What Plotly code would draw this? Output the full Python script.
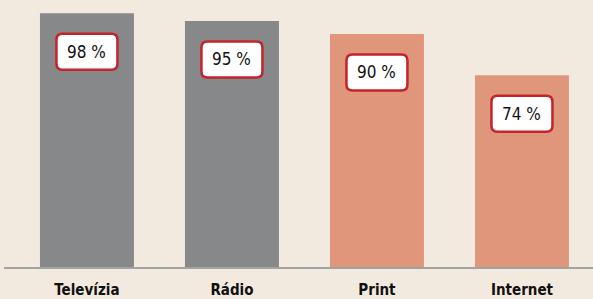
import plotly.graph_objects as go

categories = ["Televízia", "Rádio", "Print", "Internet"]
values = [98, 95, 90, 74]
bar_colors = ["#878889", "#878889", "#e0967a", "#e0967a"]
value_labels = [f"{v} %" for v in values]

FONT = "DejaVu Sans Condensed, Liberation Sans Narrow, Arial Narrow, sans-serif"

fig = go.Figure()
fig.add_trace(go.Bar(
    x=list(range(len(categories))),
    y=values,
    width=0.648,
    marker=dict(color=bar_colors, line=dict(width=0)),
    hoverinfo="skip",
))

# rounded label boxes (pixel-sized, anchored at bar tops)
w, h, cy, r = 30.5, 18, -38.5, 6
path = (
    f"M {-w + r},{cy + h} L {w - r},{cy + h} Q {w},{cy + h} {w},{cy + h - r} "
    f"L {w},{cy - h + r} Q {w},{cy - h} {w - r},{cy - h} "
    f"L {-w + r},{cy - h} Q {-w},{cy - h} {-w},{cy - h + r} "
    f"L {-w},{cy + h - r} Q {-w},{cy + h} {-w + r},{cy + h} Z"
)
for i, v in enumerate(values):
    fig.add_shape(
        type="path", xref="x", yref="y",
        xsizemode="pixel", ysizemode="pixel",
        xanchor=i, yanchor=v, path=path,
        fillcolor="white", line=dict(color="#c4232b", width=2.5),
        layer="above",
    )
    fig.add_annotation(
        x=i, y=v, yshift=cy, text=value_labels[i], showarrow=False,
        font=dict(family=FONT, size=17, color="#111111"),
        xanchor="center", yanchor="middle",
    )

fig.update_layout(
    width=593, height=299,
    margin=dict(l=4, r=0, t=8, b=32),
    paper_bgcolor="#f2eadf",
    plot_bgcolor="#f2eadf",
    showlegend=False,
    xaxis=dict(
        range=[-0.572, 3.49],
        tickmode="array",
        tickvals=list(range(len(categories))),
        ticktext=categories,
        tickfont=dict(family=FONT, size=15, color="#111111", weight="bold"),
        ticklabelstandoff=8,
        showgrid=False, zeroline=False,
        showline=True, linecolor="#a3a3a3", linewidth=1.5,
        ticks="",
        fixedrange=True,
        automargin=False,
    ),
    yaxis=dict(
        range=[0, 100],
        showgrid=False, zeroline=False, showticklabels=False,
        showline=False, fixedrange=True,
    ),
)

fig.write_html("out.html", config={"displayModeBar": False},
               post_script="document.body.style.margin='0';")
